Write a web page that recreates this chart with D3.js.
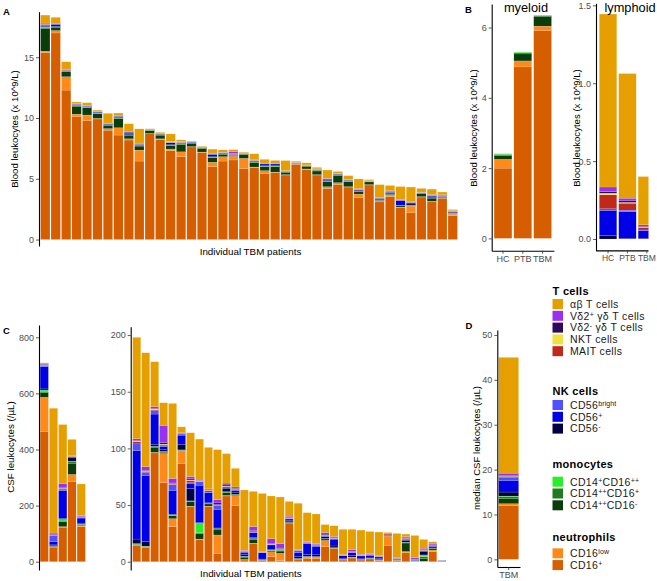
<!DOCTYPE html>
<html><head><meta charset="utf-8">
<script src="https://cdn.jsdelivr.net/npm/d3@7"></script>
<style>
body{margin:0;background:#fff;}
svg text{font-family:"Liberation Sans",Arial,Helvetica,sans-serif;}
</style></head><body>
<svg id="chart" width="657" height="581"></svg>
<script>
// ---------- series (stack order bottom -> top) ----------
const seriesKeys = ["n16p","n16low","mDark","mMid","mBright","nkNeg","nkPos","nkBright","mait","nkt","vd2neg","vd2pos","ab"];
const seriesColors = ["#D55E00","#FF8A1A","#0B3D0B","#1E7B1E","#2BEE2B","#000045","#0000E6","#5050FF","#C0281A","#F0E040","#2E0A5E","#9A30F0","#E69F00"];

// ---------- Panel A: blood, individual TBM patients ----------
const A_cats = d3.range(1, 41).map(i => "P" + i);
const A_n16p = [15.4,17.0,12.3,10.1,9.78,9.92,9.0,8.6,8.19,6.46,8.7,8.24,7.31,6.82,7.62,7.17,6.0,6.46,6.55,5.86,5.94,5.45,5.5,5.31,6.19,5.78,5.31,4.21,4.54,4.32,3.47,4.49,3.1,3.55,2.64,2.2,3.5,3.1,3.38,1.96];
const A_n16low = [0.1,0.2,1.1,0.22,0.47,0.05,0.13,0.6,0.1,0.9,0.03,0.05,0.14,0.4,0.03,0.03,0.36,0.36,0.3,0.82,0.03,0.22,0.05,0.03,0.02,0.03,0.03,0.14,0.14,0.03,0.27,0.03,0.05,0.1,0.03,0.55,0.03,0.05,0.02,0.13];
const A_mDark = [1.85,0.27,0.4,0.65,0.6,0.38,0.27,0.77,0.3,0.33,0.25,0.3,0.27,0.6,0.27,0.3,0.38,0.2,0.05,0.33,0.36,0.33,0.45,0.2,0.05,0.22,0.3,0.4,0.58,0.41,0.19,0.22,0.05,0.08,0.1,0.05,0.27,0.26,0.04,0.05];
const A_mMid = [0.1,0.03,0.03,0.05,0.04,0.05,0.04,0.03,0.03,0.04,0.02,0.04,0.03,0.05,0.04,0.04,0.03,0.04,0.02,0.03,0.05,0.03,0.04,0.02,0.02,0.03,0.05,0.04,0.06,0.04,0.03,0.03,0.02,0.02,0.02,0.02,0.03,0.03,0.02,0.03];
const A_mBright = [0.03,0.01,0.01,0.02,0.01,0.02,0.01,0.01,0.01,0.01,0.01,0.01,0.01,0.02,0.01,0.01,0.01,0.01,0.01,0.01,0.01,0.01,0.01,0.01,0.01,0.01,0.01,0.01,0.02,0.01,0.01,0.01,0.01,0.01,0.01,0.01,0.01,0.01,0.01,0.01];
const A_nkNeg = [0.05,0.05,0.03,0.03,0.03,0.03,0.02,0.05,0.08,0.04,0.02,0.03,0.08,0.04,0.02,0.02,0.08,0.03,0.03,0.02,0.04,0.08,0.07,0.02,0.01,0.01,0.03,0.07,0.03,0.03,0.07,0.01,0.08,0.07,0.03,0.1,0.01,0.08,0.04,0.05];
const A_nkPos = [0.1,0.15,0.05,0.05,0.04,0.05,0.05,0.08,0.12,0.05,0.02,0.04,0.12,0.05,0.03,0.02,0.15,0.04,0.03,0.02,0.05,0.1,0.1,0.03,0.01,0.01,0.03,0.1,0.03,0.04,0.08,0.01,0.08,0.06,0.38,0.08,0.01,0.1,0.04,0.05];
const A_nkBright = [0.05,0.03,0.02,0.02,0.02,0.02,0.02,0.02,0.03,0.02,0.01,0.02,0.03,0.02,0.01,0.01,0.04,0.02,0.02,0.01,0.02,0.02,0.02,0.01,0.01,0.01,0.02,0.02,0.02,0.02,0.02,0.01,0.02,0.02,0.04,0.02,0.01,0.02,0.03,0.02];
const A_mait = [0.05,0.02,0.02,0.02,0.01,0.01,0.01,0.01,0.02,0.03,0.01,0.01,0.02,0.02,0.01,0.01,0.02,0.01,0.05,0.01,0.02,0.01,0.01,0.01,0.01,0.01,0.01,0.01,0.01,0.01,0.01,0.01,0.01,0.02,0.01,0.02,0.01,0.01,0.03,0.02];
const A_nkt = [0.01,0.01,0.01,0.01,0.01,0.01,0.01,0.01,0.01,0.01,0.01,0.01,0.01,0.01,0.01,0.01,0.01,0.01,0.01,0.01,0.01,0.01,0.01,0.01,0.01,0.01,0.01,0.01,0.01,0.01,0.01,0.01,0.01,0.01,0.01,0.01,0.01,0.01,0.01,0.01];
const A_vd2neg = [0.03,0.02,0.02,0.01,0.01,0.01,0.01,0.02,0.02,0.02,0.01,0.01,0.02,0.01,0.01,0.01,0.01,0.01,0.03,0.01,0.01,0.01,0.01,0.01,0.01,0.01,0.01,0.01,0.01,0.01,0.01,0.01,0.02,0.02,0.01,0.02,0.01,0.01,0.02,0.02];
const A_vd2pos = [0.05,0.02,0.02,0.02,0.02,0.02,0.02,0.03,0.02,0.03,0.01,0.01,0.03,0.02,0.01,0.01,0.03,0.01,0.15,0.01,0.02,0.03,0.02,0.02,0.01,0.01,0.01,0.02,0.01,0.01,0.02,0.01,0.02,0.05,0.03,0.04,0.01,0.02,0.04,0.02];
const A_ab = [0.65,0.48,0.62,0.12,0.22,0.08,0.8,0.18,0.6,1.17,0.02,0.06,0.62,0.14,0.04,0.04,0.32,0.18,0.15,0.05,0.5,0.3,0.22,0.82,0.08,0.17,0.12,0.68,0.14,0.32,0.8,0.08,1.05,0.44,1.05,1.2,0.3,0.45,0.23,0.1];
const A_ticks = [0, 5, 10, 15];

// ---------- Panel B: group medians (blood) ----------
const B_cats = ["HC", "PTB", "TBM"];
const Bmy_n16p = [2.0, 4.88, 5.92];
const Bmy_n16low = [0.25, 0.17, 0.12];
const Bmy_mDark = [0.11, 0.2, 0.28];
const Bmy_mMid = [0.03, 0.03, 0.02];
const Bmy_mBright = [0.02, 0.02, 0.01];
const Bmy_ticks = [0, 2, 4, 6];
const Bly_nkNeg = [0.024, 0.005, 0.005];
const Bly_nkPos = [0.16, 0.17, 0.05];
const Bly_nkBright = [0.01, 0.01, 0.003];
const Bly_mait = [0.09, 0.045, 0.015];
const Bly_nkt = [0.01, 0.005, 0.003];
const Bly_vd2neg = [0.01, 0.01, 0.005];
const Bly_vd2pos = [0.03, 0.017, 0.01];
const Bly_ab = [1.11, 0.8, 0.31];
const Bly_ticks = [0, 0.5, 1.0, 1.5];

// ---------- Panel C: CSF, individual TBM patients ----------
const Cl_cats = d3.range(1, 6).map(i => "P" + i);
const Cl_n16p = [463, 52, 123, 285, 125];
const Cl_n16low = [123, 2, 2, 26, 4];
const Cl_mDark = [16, 2, 18, 40, 4];
const Cl_mMid = [3, 0.5, 2, 5, 1];
const Cl_mBright = [7, 0.5, 6, 2, 0.5];
const Cl_nkNeg = [4, 3, 3, 12, 3];
const Cl_nkPos = [80, 12, 100, 3, 18];
const Cl_nkBright = [4, 20, 5, 1, 3];
const Cl_mait = [1, 1, 2, 1, 1];
const Cl_nkt = [1, 1, 1, 1, 0.5];
const Cl_vd2neg = [2, 2, 3, 1, 1];
const Cl_vd2pos = [3, 6, 14, 1, 3];
const Cl_ab = [2, 445, 210, 58, 113];
const Cl_ticks = [0, 200, 400, 600, 800];

const Cr_cats = d3.range(6, 41).map(i => "P" + i);
const Cr_n16p = [14,12.5,96,70,31,86.8,48.5,19.7,48.5,7.4,58,49.4,1.5,16,1,4.4,0.9,33.5,1.8,3,2.5,13.3,11.6,1.5,3.3,1.5,2.4,1.2,14.5,1.2,8,0.5,0.3,8.8,0.6];
const Cr_n16low = [0.5,0.3,0.5,25.5,7,11,0.5,0.3,0.5,16.2,0.5,9,0.5,0.3,0.3,4.4,6.5,0.3,0.3,1,1.5,5.5,0.3,0.3,0.3,0.2,0.3,0.3,8,0.2,1,0.2,0.2,1.5,0.1];
const Cr_mDark = [0.5,0.5,4.5,1,2.5,0.5,4,5,2,4.5,2.5,0.5,2,3.5,0.3,1,2,1,0.5,0.5,0.3,1.3,0.3,0.2,0.3,0.2,0.2,0.2,0.3,0.2,7.5,0.2,2.5,1.5,0.3];
const Cr_mMid = [0.5,0.3,0.5,0.5,0.5,0.2,0.5,0.5,0.3,1,0.5,0.3,0.5,0.5,0.2,0.3,0.5,0.3,0.2,0.2,0.2,0.3,0.1,0.1,0.1,0.1,0.1,0.1,0.1,0.1,0.5,0.1,1.5,0.3,0.05];
const Cr_mBright = [0.5,0.2,0.3,0.3,0.5,0.2,0.2,8.5,0.2,0.2,0.3,0.2,0.3,0.2,0.1,0.2,0.2,0.1,0.1,0.1,0.1,0.1,0.1,0.1,0.1,0.1,0.1,0.1,0.1,0.1,0.2,0.1,1.5,0.1,0.05];
const Cr_nkNeg = [4,4,1.5,1.5,0.5,5,11,0.5,0.5,0.5,3,2,1.5,1,0.5,0.5,0.3,1,1.5,1.5,1.5,1.5,1.5,0.5,1.5,0.5,1,0.8,0.3,0.3,1.5,0.3,3,1,0.1];
const Cr_nkPos = [78,58,27,3,21,8,4,33,9,16,1,1.5,1.5,4,5.5,4,0.3,1.5,3.5,9.7,7.5,0.5,6,2.5,2.5,2.5,1.5,1.5,0.3,0.8,1,0.3,0.5,0.5,0.1];
const Cr_nkBright = [6,3,3,0.5,5,1,1,3,0.5,4,0.5,1,1,0.5,0.5,0.5,0.3,0.5,2,0.5,1,0.3,0.5,0.3,0.3,0.5,0.5,0.3,0.2,0.2,0.3,0.2,0.3,0.3,0.05];
const Cr_mait = [2,1,1,1,0.5,0.3,2,0.3,1.5,0.3,0.3,0.3,0.2,0.3,0.1,0.2,0.3,0.3,0.1,0.2,0.2,0.3,0.2,0.1,0.2,0.1,0.1,0.1,1,0.1,0.5,0.1,0.3,0.3,0.05];
const Cr_nkt = [0.5,0.5,0.5,0.5,0.5,0.2,0.5,0.3,0.3,0.3,0.3,0.3,0.2,0.3,0.1,0.3,0.3,0.2,0.1,0.2,0.2,0.2,0.2,0.1,0.2,0.1,0.1,0.1,0.1,0.1,0.2,0.1,0.1,0.1,0];
const Cr_vd2neg = [0.5,0.5,0.5,1.5,0.5,0.3,1,0.3,0.5,1.5,1.5,0.5,0.3,1,0.2,0.5,0.5,0.5,0.2,0.3,0.3,1,0.3,0.2,0.3,0.2,0.2,0.2,0.3,0.1,0.5,0.3,0.5,0.5,0.05];
const Cr_vd2pos = [1.5,3,1.5,15,4,0.3,2,0.5,0.5,3,1,1,0.5,3.5,0.3,4,4,1,0.3,0.5,0.8,1.5,1.2,0.3,1.5,0.5,0.8,0.6,0.1,0.5,1,1.2,1.2,0.8,0.05];
const Cr_ab = [89.5,100.6,39.7,20,66.2,5.2,38.6,36.3,36.6,44,26,16.4,53.3,31,51.2,37.7,41,13,41,25.6,26,7,9.5,22.4,18,21.4,19.4,20.7,0.5,21.1,2.2,19.6,7.8,1.9,0];
const Cr_ticks = [0, 50, 100, 150, 200];

// ---------- Panel D: median CSF ----------
const D_cats = ["TBM"];
const D_n16p = [12.0], D_n16low = [0.4], D_mDark = [1.1], D_mMid = [0.5], D_mBright = [0.1];
const D_nkNeg = [0.9], D_nkPos = [2.6], D_nkBright = [0.6];
const D_mait = [0.2], D_nkt = [0.1], D_vd2neg = [0.2], D_vd2pos = [0.5], D_ab = [25.8];
const D_ticks = [0, 10, 20, 30, 40, 50];

// ---------- legend ----------
const legendTitles = ["T cells", "NK cells", "monocytes", "neutrophils"];
const legendKeys = [["ab","vd2pos","vd2neg","nkt","mait"],["nkBright","nkPos","nkNeg"],["mBright","mMid","mDark"],["n16low","n16p"]];
const legendLabels = [["αβ T cells","Vδ2^{+} γδ T cells","Vδ2^{-} γδ T cells","NKT cells","MAIT cells"],
  ["CD56^{bright}","CD56^{+}","CD56^{-}"],
  ["CD14^{+}CD16^{++}","CD14^{++}CD16^{+}","CD14^{++}CD16^{-}"],
  ["CD16^{low}","CD16^{+}"]];

// =============== drawing ===============
const svg = d3.select("#chart");
svg.append("rect").attr("width", 657).attr("height", 581).attr("fill", "#fff");
const colorOf = d3.scaleOrdinal().domain(seriesKeys).range(seriesColors);
const defs = svg.append("defs");
const FONT = '"Liberation Sans",Arial,Helvetica,sans-serif';

function makeRows(cats, arrays) {
  return cats.map((c, i) => {
    const r = { cat: c };
    seriesKeys.forEach(k => { r[k] = arrays[k] ? arrays[k][i] : 0; });
    return r;
  });
}

function styleAxis(sel, size) {
  sel.attr("font-family", FONT);
  sel.select(".domain").attr("stroke", "#000").attr("stroke-width", 1.1);
  sel.selectAll(".tick line").attr("stroke", "#333").attr("stroke-width", 0.8);
  sel.selectAll(".tick text").attr("fill", "#4d4d4d").attr("font-size", size || 9);
}

let clipId = 0;
function drawPanel(o) {
  const x = d3.scaleBand().domain(o.cats).range(o.xRange).paddingInner(0.1).paddingOuter(o.padOuter);
  const y = d3.scaleLinear().domain(o.yDomain).range(o.yRange);
  const stacked = d3.stack().keys(seriesKeys)(makeRows(o.cats, o.arrays));
  const g = svg.append("g");
  const gb = g.append("g");
  if (o.clipRight) {
    const id = "clip" + (clipId++);
    defs.append("clipPath").attr("id", id).append("rect")
      .attr("x", o.xRange[0]).attr("y", 0).attr("width", o.clipRight - o.xRange[0]).attr("height", 581);
    gb.attr("clip-path", `url(#${id})`);
  }
  gb.selectAll("g.s").data(stacked).join("g").attr("class", "s").attr("fill", d => colorOf(d.key))
    .selectAll("rect").data(d => d).join("rect")
    .attr("x", d => x(d.data.cat)).attr("width", x.bandwidth())
    .attr("y", d => y(d[1])).attr("height", d => Math.max(0, y(d[0]) - y(d[1])))
    .attr("stroke", "#fff").attr("stroke-opacity", 0.45)
    .attr("stroke-width", d => (y(d[0]) - y(d[1])) > 0.01 ? 0.3 : 0);
  const ay = g.append("g").attr("transform", `translate(${o.xRange[0]},0)`)
    .call(d3.axisLeft(y).tickValues(o.ticks).tickFormat(o.fmt || d3.format("d")).tickSize(3).tickSizeOuter(0).tickPadding(2));
  styleAxis(ay);
  if (o.bottomAxis) {
    const ax = g.append("g").attr("transform", `translate(0,${o.yRange[0]})`)
      .call(d3.axisBottom(x).tickSize(3).tickSizeOuter(0).tickPadding(2));
    styleAxis(ax, o.xTickSize);
    if (o.clipRight) {
      ax.select(".domain").attr("d", `M${o.xRange[0]},0.5H${o.clipRight}`);
    }
  }
  return { x, y, g };
}

function pick(prefix, scope) {
  const out = {};
  seriesKeys.forEach(k => { if (scope[prefix + k] !== undefined) out[k] = scope[prefix + k]; });
  return out;
}
const scope = {A_n16p,A_n16low,A_mDark,A_mMid,A_mBright,A_nkNeg,A_nkPos,A_nkBright,A_mait,A_nkt,A_vd2neg,A_vd2pos,A_ab,
  Bmy_n16p,Bmy_n16low,Bmy_mDark,Bmy_mMid,Bmy_mBright,
  Bly_nkNeg,Bly_nkPos,Bly_nkBright,Bly_mait,Bly_nkt,Bly_vd2neg,Bly_vd2pos,Bly_ab,
  Cl_n16p,Cl_n16low,Cl_mDark,Cl_mMid,Cl_mBright,Cl_nkNeg,Cl_nkPos,Cl_nkBright,Cl_mait,Cl_nkt,Cl_vd2neg,Cl_vd2pos,Cl_ab,
  Cr_n16p,Cr_n16low,Cr_mDark,Cr_mMid,Cr_mBright,Cr_nkNeg,Cr_nkPos,Cr_nkBright,Cr_mait,Cr_nkt,Cr_vd2neg,Cr_vd2pos,Cr_ab,
  D_n16p,D_n16low,D_mDark,D_mMid,D_mBright,D_nkNeg,D_nkPos,D_nkBright,D_mait,D_nkt,D_vd2neg,D_vd2pos,D_ab};

drawPanel({cats: A_cats, arrays: pick("A_", scope), xRange: [39, 459], padOuter: 0.15,
  yDomain: [-0.53, 18.75], yRange: [246, 11.7], ticks: A_ticks});
drawPanel({cats: B_cats, arrays: pick("Bmy_", scope), xRange: [491.7, 553.9], padOuter: 0.12,
  yDomain: [-0.35, 6.67], yRange: [250.7, 4], ticks: Bmy_ticks, bottomAxis: true});
drawPanel({cats: B_cats, arrays: pick("Bly_", scope), xRange: [596, 658.9], padOuter: 0.17,
  yDomain: [-0.073, 1.513], yRange: [250.4, 3.3], ticks: Bly_ticks, fmt: d3.format(".1f"), bottomAxis: true,
  clipRight: 648.5, xTickSize: 8.5});
drawPanel({cats: Cl_cats, arrays: pick("Cl_", scope), xRange: [39, 86.5], padOuter: 0.12,
  yDomain: [-29.6, 843.8], yRange: [570, 325], ticks: Cl_ticks});
drawPanel({cats: Cr_cats, arrays: pick("Cr_", scope), xRange: [130.7, 447.7], padOuter: 0.22,
  yDomain: [-7.3, 207.4], yRange: [570, 326.7], ticks: Cr_ticks});
drawPanel({cats: D_cats, arrays: pick("D_", scope), xRange: [497.3, 520], padOuter: 0.061,
  yDomain: [-1.7, 51.1], yRange: [567, 330], ticks: D_ticks, bottomAxis: true});

// ---------- texts ----------
function txt(x, y, s, size, opts = {}) {
  const t = svg.append("text").attr("x", x).attr("y", y).attr("font-size", size).attr("fill", opts.fill || "#000").text(s);
  if (opts.bold) t.attr("font-weight", "bold");
  if (opts.anchor) t.attr("text-anchor", opts.anchor);
  return t;
}
function vtxt(x, y, s, size) {
  svg.append("text").attr("transform", `translate(${x},${y}) rotate(-90)`).attr("text-anchor", "middle")
    .attr("dy", "0.35em").attr("font-size", size).attr("fill", "#000").text(s);
}
txt(3, 15, "A", 9.5, {bold: true});
txt(465, 12.5, "B", 9.5, {bold: true});
txt(3, 334, "C", 9.5, {bold: true});
txt(465.5, 329, "D", 9.5, {bold: true});
txt(526, 11.5, "myeloid", 12.8, {anchor: "middle"});
txt(630, 11.5, "lymphoid", 12.8, {anchor: "middle"});
vtxt(15, 129, "Blood leukocytes (x 10^9/L)", 9.6);
vtxt(473.5, 128, "Blood leukocytes (x 10^9/L)", 9.6);
vtxt(577, 128, "Blood leukocytes (x 10^9/L)", 9.6);
vtxt(10.5, 447, "CSF leukocytes (/µL)", 9.8);
vtxt(477, 448, "median CSF leukocytes (/µL)", 9.6);
txt(250.5, 254.5, "Individual TBM patients", 9.8, {anchor: "middle"});
txt(250.8, 576.5, "Individual TBM patients", 9.8, {anchor: "middle"});

// ---------- legend ----------
const legendTitleY = [291, 391, 464, 537];
const legendFirstY = [304, 405, 481.7, 553.3];
const legendStep = 11.8;
const LX = 552.5, TX = 570;
function rich(t, s) {
  const parts = s.split(/\^\{([^}]*)\}/);
  let shifted = false;
  parts.forEach((p, i) => {
    if (!p) return;
    const ts = t.append("tspan").text(p);
    if (i % 2 === 1) { ts.attr("font-size", 7).attr("letter-spacing", 0.1); if (!shifted) { ts.attr("dy", -3); shifted = true; } }
    else if (shifted) { ts.attr("dy", 3); shifted = false; }
  });
}
legendTitles.forEach((title, gi) => {
  svg.append("text").attr("x", LX).attr("y", legendTitleY[gi]).attr("dy", "0.35em")
    .attr("font-size", 11).attr("letter-spacing", 0.3).attr("font-weight", "bold").attr("fill", "#000").text(title);
  legendKeys[gi].forEach((k, i) => {
    const cy = legendFirstY[gi] + i * legendStep;
    svg.append("rect").attr("x", LX).attr("y", cy - 5).attr("width", 10.5).attr("height", 10).attr("fill", colorOf(k));
    const t = svg.append("text").attr("x", TX).attr("y", cy + 3.8).attr("font-size", 10.5)
      .attr("letter-spacing", 0.35).attr("fill", "#1a1a1a");
    rich(t, legendLabels[gi][i]);
  });
});
</script></body></html>
